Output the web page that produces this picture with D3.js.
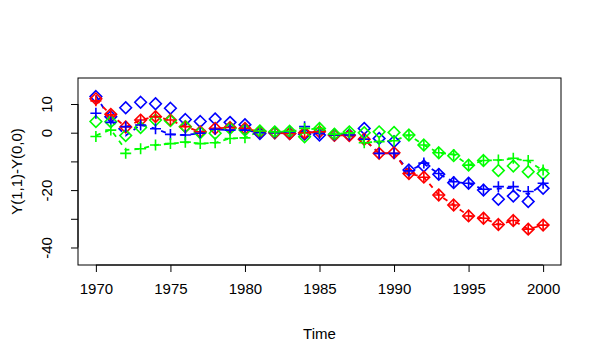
<!DOCTYPE html>
<html>
<head>
<meta charset="utf-8">
<script src="https://cdn.jsdelivr.net/npm/d3@7"></script>
<style>
  body { margin: 0; background: #fff; }
  text { font-family: "Liberation Sans", Arial, sans-serif; fill: #000; }
</style>
</head>
<body>
<svg id="chart" width="602" height="364"></svg>
<script>
// years on the x axis
var years = d3.range(1970, 2001);

// diamonds (first estimate) and pluses (second estimate), one pair per colour
var redDiamond = [11.8, 6.4, 2.0, 4.4, 5.6, 4.4, 2.1, 0.3, 1.5, 1.8, 1.5, 0.3, 0.0, -0.3, 0.0, 0.3, -0.9, -1.0, -2.3, -7.2, -7.0, -14.2, -15.5, -21.7, -25.2, -29.0, -29.8, -32.0, -30.6, -33.6, -32.2];
var redPlus    = [11.1, 6.2, 2.0, 4.4, 5.6, 4.4, 2.1, 0.3, 1.5, 1.8, 1.5, 0.3, 0.0, -0.3, 0.0, 0.3, -0.9, -1.0, -2.3, -7.2, -7.2, -14.2, -15.5, -21.7, -25.2, -29.0, -29.8, -32.0, -30.6, -33.6, -32.2];
var blueDiamond = [12.6, 5.6, 8.7, 10.6, 10.1, 8.5, 4.6, 3.9, 4.8, 3.6, 2.8, -0.3, 0.0, -0.3, -0.5, -0.8, -0.8, -0.8, 1.5, -2.0, -3.1, -13.0, -11.6, -14.5, -17.4, -17.6, -20.0, -23.2, -22.1, -24.0, -19.4];
var bluePlus    = [6.8, 3.6, 2.1, 2.7, 1.4, -0.6, -0.8, -0.2, 1.2, 0.9, 0.9, 0.0, 0.0, 0.3, 2.1, -0.3, -0.8, -0.8, -2.3, -7.2, -7.2, -13.3, -10.6, -14.2, -17.1, -17.6, -19.7, -18.8, -18.8, -20.5, -17.6];
var greenDiamond = [3.9, 3.8, -1.0, 1.8, 4.4, 4.2, 2.1, 0.0, -0.2, 1.5, 0.9, 0.6, 0.3, 0.5, -1.4, 1.5, -0.5, 0.3, 0.0, 0.3, 0.1, -0.8, -4.3, -7.0, -8.0, -11.3, -9.7, -13.2, -11.6, -13.6, -14.2];
var greenPlus    = [-1.3, 0.9, -7.2, -5.6, -4.3, -3.8, -3.3, -3.8, -3.5, -2.0, -1.8, 0.6, 0.3, 0.5, 1.5, 1.5, -0.5, 0.0, -3.5, -3.1, -2.8, -0.8, -4.3, -7.0, -7.6, -11.3, -9.7, -9.5, -8.9, -9.7, -13.0];

// dashed reference lines (mostly hidden under the markers)
var redLine   = [11.5, 6.3, 2.0, 4.4, 5.6, 4.4, 2.1, 0.3, 1.5, 1.8, 1.5, 0.3, 0.0, -0.3, 0.0, 0.3, -0.9, -1.0, -2.3, -7.2, -7.1, -14.2, -15.5, -21.7, -25.2, -29.0, -29.8, -32.0, -30.6, -33.6, -32.2];
var blueLine  = [13.0, 4.4, -1.0, 2.7, 1.4, -0.6, -0.8, -0.2, 1.2, 0.9, 0.9, 0.0, 0.0, 0.3, 0.5, -0.3, -0.8, -0.8, -2.3, -7.2, -7.2, -13.3, -10.8, -14.3, -17.2, -17.6, -19.8, -19.5, -19.2, -21.5, -18.0];
var greenLine = [-1.0, 1.1, -6.0, -5.6, -4.3, -3.8, -3.3, -3.8, -3.5, -2.0, -1.8, 0.6, 0.3, 0.5, 1.0, 1.5, -0.5, 0.0, -3.5, -3.1, -2.8, -0.8, -4.3, -7.0, -7.6, -11.3, -9.7, -9.6, -9.0, -9.8, -13.2];

var xTicks = [1970, 1975, 1980, 1985, 1990, 1995, 2000];
var yTicks = [-40, -30, -20, -10, 0, 10];
var yTickLabels = ["-40", "", "-20", "", "0", "10"];

var series = [
  { color: "#0000FF", diamond: blueDiamond, plus: bluePlus, line: blueLine },
  { color: "#FF0000", diamond: redDiamond, plus: redPlus, line: redLine },
  { color: "#00FF00", diamond: greenDiamond, plus: greenPlus, line: greenLine }
];

var svg = d3.select("#chart");
var box = { left: 78, right: 561, top: 78, bottom: 265 };

var x = d3.scaleLinear().domain([1968.8, 2001.2]).range([box.left, box.right]);
var y = d3.scaleLinear().domain([-46.1, 19.06]).range([box.bottom, box.top]);

// dashed lines
var line = d3.line().x(function(d, i) { return x(years[i]); }).y(function(d) { return y(d); });
series.forEach(function(s) {
  svg.append("path")
    .attr("d", line(s.line))
    .attr("fill", "none")
    .attr("stroke", s.color)
    .attr("stroke-width", 1.8)
    .attr("stroke-dasharray", "5,5");
});

// diamonds
var dr = 5.8;
series.forEach(function(s) {
  svg.append("g").selectAll("path")
    .data(s.diamond)
    .enter().append("path")
      .attr("d", function(d, i) {
        var cx = x(years[i]), cy = y(d);
        return "M" + cx + "," + (cy - dr) + "L" + (cx + dr) + "," + cy +
               "L" + cx + "," + (cy + dr) + "L" + (cx - dr) + "," + cy + "Z";
      })
      .attr("fill", "none")
      .attr("stroke", s.color)
      .attr("stroke-width", 1.6);
});

// pluses
var pr = 5.5;
[series[1], series[0], series[2]].forEach(function(s) {
  svg.append("g").selectAll("path")
    .data(s.plus)
    .enter().append("path")
      .attr("d", function(d, i) {
        var cx = x(years[i]), cy = y(d);
        return "M" + (cx - pr) + "," + cy + "H" + (cx + pr) +
               "M" + cx + "," + (cy - pr) + "V" + (cy + pr);
      })
      .attr("fill", "none")
      .attr("stroke", s.color)
      .attr("stroke-width", 1.6);
});

// plot frame
svg.append("rect")
  .attr("x", box.left).attr("y", box.top)
  .attr("width", box.right - box.left).attr("height", box.bottom - box.top)
  .attr("fill", "none").attr("stroke", "#000").attr("stroke-width", 1);

// x axis
var xAxis = d3.axisBottom(x).tickValues(xTicks).tickFormat(d3.format("d")).tickSize(7).tickPadding(11);
var gx = svg.append("g").attr("transform", "translate(0," + box.bottom + ")").call(xAxis);

// y axis (labels parallel to axis, R style)
var yAxis = d3.axisLeft(y).tickValues(yTicks).tickFormat(function(d, i) { return yTickLabels[i]; }).tickSize(7);
var gy = svg.append("g").attr("transform", "translate(" + box.left + ",0)").call(yAxis);
gy.selectAll(".tick text")
  .attr("x", null).attr("dy", null)
  .attr("text-anchor", "middle")
  .attr("transform", "translate(-26,0) rotate(-90)");

[gx, gy].forEach(function(g) {
  g.selectAll(".tick line").attr("stroke", "#000");
  g.selectAll(".tick text").style("font-size", "15px").attr("fill", "#000");
  g.select(".domain").remove();
});
// axis lines run only between first and last tick
svg.append("line").attr("x1", x(1970)).attr("x2", x(2000)).attr("y1", box.bottom).attr("y2", box.bottom).attr("stroke", "#000");
svg.append("line").attr("x1", box.left).attr("x2", box.left).attr("y1", y(-40)).attr("y2", y(10)).attr("stroke", "#000");

// axis titles
svg.append("text")
  .attr("x", (box.left + box.right) / 2).attr("y", 339)
  .attr("text-anchor", "middle")
  .style("font-size", "15px")
  .text("Time");

svg.append("text")
  .attr("transform", "translate(22," + ((box.top + box.bottom) / 2) + ") rotate(-90)")
  .attr("text-anchor", "middle")
  .style("font-size", "15px")
  .text("Y(1,1)-Y(0,0)");
</script>
</body>
</html>
